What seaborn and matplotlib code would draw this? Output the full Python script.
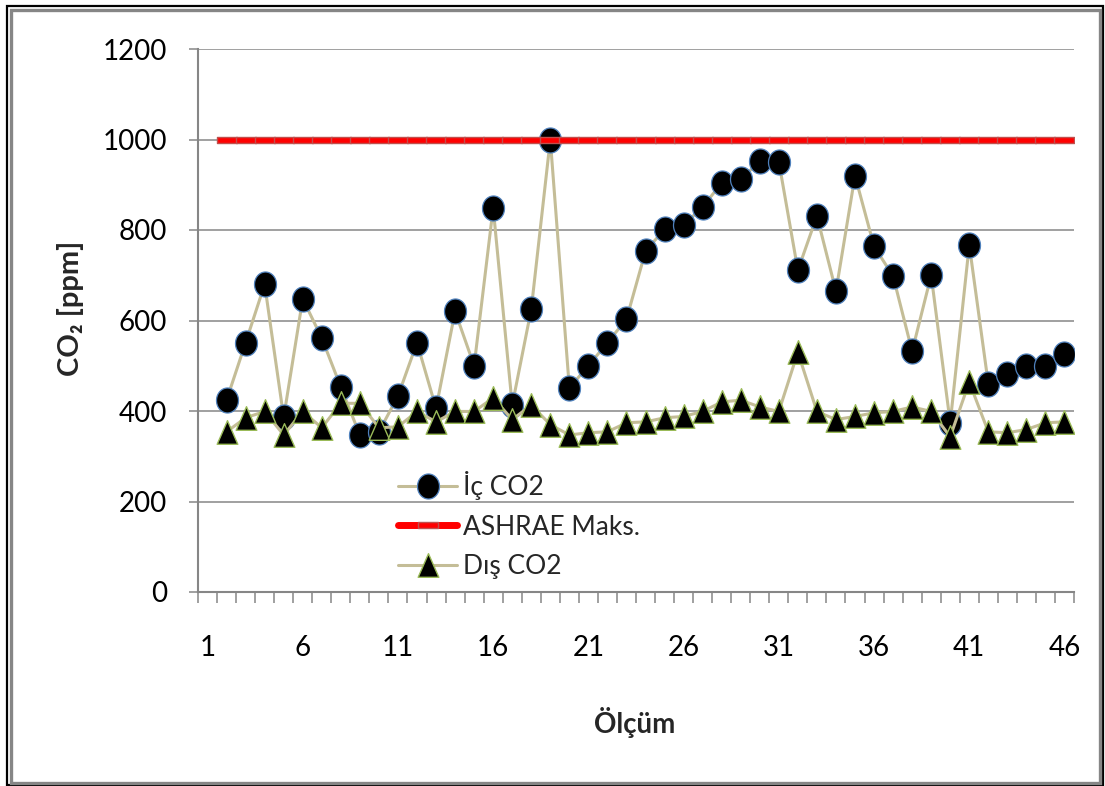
import numpy as np
import pandas as pd
import matplotlib
matplotlib.use("Agg")
import matplotlib.pyplot as plt
from matplotlib.path import Path
from matplotlib.patches import Rectangle
import seaborn as sns

# Measurement index (category axis runs 1..46, readings start at 2)
olcum = list(range(2, 47))

# Indoor CO2 [ppm]
ic_co2 = [424, 551, 680, 386, 648, 561, 453, 347, 354, 433, 551, 406, 620, 500, 849,
          413, 625, 1000, 451, 500, 551, 603, 753, 802, 811, 851, 904, 912, 952, 951,
          711, 831, 665, 920, 764, 698, 532, 700, 374, 767, 460, 482, 500, 500, 525]

# Outdoor CO2 [ppm]
dis_co2 = [354, 385, 399, 347, 399, 363, 417, 417, 363, 365, 399, 376, 399, 399, 429,
           381, 413, 370, 347, 352, 354, 374, 376, 385, 388, 399, 420, 424, 409, 399,
           530, 399, 381, 388, 396, 399, 409, 399, 343, 464, 354, 352, 359, 374, 376]

# ASHRAE upper limit [ppm]
ashrae_maks = [1000, 1000, 1000, 1000, 1000, 1000, 1000, 1000, 1000, 1000, 1000, 1000,
               1000, 1000, 1000, 1000, 1000, 1000, 1000, 1000, 1000, 1000, 1000, 1000,
               1000, 1000, 1000, 1000, 1000, 1000, 1000, 1000, 1000, 1000, 1000, 1000,
               1000, 1000, 1000, 1000, 1000, 1000, 1000, 1000, 1000]

x_tick_pos = [1, 6, 11, 16, 21, 26, 31, 36, 41, 46]
x_tick_labels = ["1", "6", "11", "16", "21", "26", "31", "36", "41", "46"]
y_ticks = [0, 200, 400, 600, 800, 1000, 1200]

df = pd.DataFrame({"olcum": olcum, "ic": ic_co2, "dis": dis_co2, "ashrae": ashrae_maks})

sns.set_style("white")
FONT = ["Lato", "DejaVu Sans"]
plt.rcParams["font.family"] = FONT

GRID = "#868686"
TAN = "#C4BD97"

# Marker shapes: slightly tall ellipse, tall triangle, flat bar
t = np.linspace(0, 2 * np.pi, 61)
ellipse = Path(np.column_stack([0.44 * np.cos(t), 0.5 * np.sin(t)]), closed=True)
triangle = Path([(0, 1), (-0.875, -1), (0.875, -1), (0, 1)], closed=True)
bar = Path([(-1, -0.3), (1, -0.3), (1, 0.3), (-1, 0.3), (-1, -0.3)], closed=True)

fig = plt.figure(figsize=(11.05, 7.86), dpi=100)
ax = fig.add_axes([198 / 1105, 194 / 786, 876 / 1105, 543 / 786])

sns.lineplot(data=df, x="olcum", y="ic", ax=ax, errorbar=None, color=TAN, lw=2.2,
             marker=ellipse, markersize=18, markerfacecolor="black",
             markeredgecolor="#4F81BD", markeredgewidth=0.9, label="İç CO2", zorder=3)
sns.lineplot(data=df, x="olcum", y="ashrae", ax=ax, errorbar=None, color="#FF0000", lw=5,
             marker=bar, markersize=14, markerfacecolor="#FF0000",
             markeredgecolor="#C0504D", markeredgewidth=1.0, label="ASHRAE Maks.", zorder=4)
sns.lineplot(data=df, x="olcum", y="dis", ax=ax, errorbar=None, color=TAN, lw=2.2,
             marker=triangle, markersize=17, markerfacecolor="black",
             markeredgecolor="#9BBB59", markeredgewidth=1.0, label="Dış CO2", zorder=5)

ax.set_xlim(0.5, 46.5)
ax.set_ylim(0, 1200)
ax.set_yticks(y_ticks)
ax.set_yticklabels([str(v) for v in y_ticks])
ax.set_xticks(x_tick_pos)
ax.set_xticklabels(x_tick_labels)
ax.set_xticks(np.arange(0.5, 47.0, 1.0), minor=True)

ax.yaxis.grid(True, color=GRID, lw=1.1)
ax.xaxis.grid(False)
ax.set_axisbelow(True)
for side in ("top", "right"):
    ax.spines[side].set_visible(False)
for side in ("left", "bottom"):
    ax.spines[side].set_color(GRID)
    ax.spines[side].set_linewidth(1.5)

ax.tick_params(axis="y", which="major", length=6.5, width=1.1, color=GRID,
               pad=16, labelsize=20, labelcolor="black", left=True)
ax.tick_params(axis="x", which="major", length=0, pad=31, labelsize=20, labelcolor="black")
ax.tick_params(axis="x", which="minor", length=8, width=1.1, color=GRID, bottom=True,
               direction="out")

ax.set_xlabel("Ölçüm", fontsize=20, fontweight="bold")
ax.xaxis.set_label_coords((635 - 198) / 876, (592 - 722) / 543)
ax.xaxis.label.set_va("center")
ax.set_ylabel("CO₂ [ppm]", fontsize=21, fontweight="bold")
ax.yaxis.set_label_coords((70 - 198) / 876, (592 - 308) / 543)
ax.yaxis.label.set_va("center")

leg = ax.legend(loc="upper left", bbox_to_anchor=(398 / 1105, 1 - 471 / 786),
                bbox_transform=fig.transFigure, frameon=False, borderpad=0,
                borderaxespad=0, handlelength=2.25, handletextpad=0.2,
                labelspacing=0.55, fontsize=19)

# Chart-area border: thin black outer line with a grey inner line
fig.add_artist(Rectangle((7 / 1105, 1 - 785 / 786), 1096 / 1105, 779 / 786,
                         transform=fig.transFigure, fill=False, ec="black", lw=1.6))
fig.add_artist(Rectangle((11 / 1105, 1 - 783 / 786), 1089 / 1105, 773 / 786,
                         transform=fig.transFigure, fill=False, ec=GRID, lw=2.4))

fig.savefig("out.png", dpi=100)
